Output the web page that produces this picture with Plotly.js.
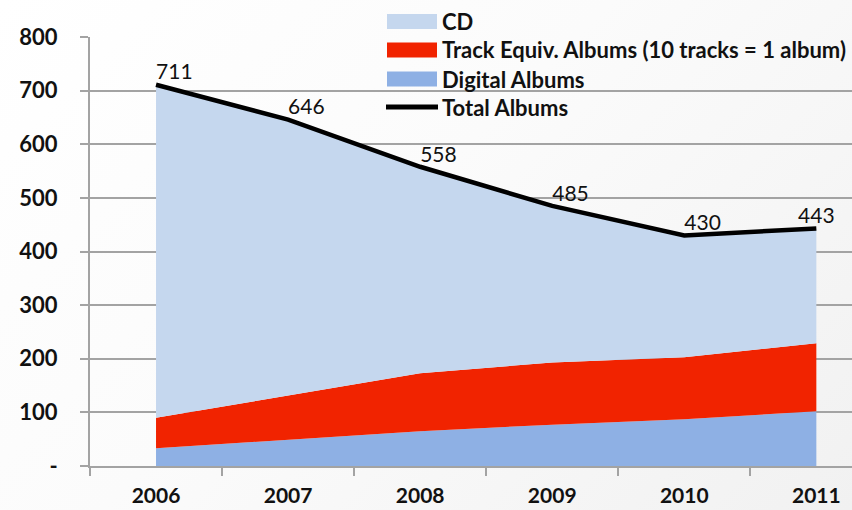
<!DOCTYPE html>
<html>
<head>
<meta charset="utf-8">
<script src="https://cdn.plot.ly/plotly-3.0.1.min.js"></script>
<style>
  html, body { margin: 0; padding: 0; }
  body {
    width: 852px; height: 510px; overflow: hidden;
    background: linear-gradient(135deg, #ffffff 0%, #fbfbfb 45%, #f1f1f1 100%);
  }
  #chart { width: 852px; height: 510px; }
</style>
</head>
<body>
<div id="chart"></div>
<script>
// US album sales by format, millions of units
const years = ['2006', '2007', '2008', '2009', '2010', '2011'];
const digitalAlbums = [33, 49, 65, 77, 87, 102];
const trackEquivAlbums = [57, 83, 108, 116, 116, 127];
const cdAlbums = [621, 514, 385, 292, 227, 214];
const totalAlbums = [711, 646, 558, 485, 430, 443];

const yTickVals = [0, 100, 200, 300, 400, 500, 600, 700, 800];
const yTickText = ['-', '100', '200', '300', '400', '500', '600', '700', '800'];

const seriesNames = ['CD', 'Track Equiv. Albums (10 tracks = 1 album)', 'Digital Albums', 'Total Albums'];
const seriesColors = ['#c5d7ee', '#f12300', '#8eb0e4', '#000000'];

const FONT = 'Lato, "Liberation Sans", sans-serif';
const GRID = '#a3a3a3';

// plot area geometry in pixels, used to place the legend in paper coords
const W = 852, H = 510, M = { l: 90, r: 0, t: 37, b: 44 };
const px2x = px => (px - M.l) / (W - M.l - M.r);
const px2y = py => (H - M.b - py) / (H - M.t - M.b);

const traces = [
  {
    name: seriesNames[2], x: years, y: digitalAlbums,
    type: 'scatter', mode: 'lines', stackgroup: 'sales',
    line: { width: 0 }, fillcolor: seriesColors[2], showlegend: false
  },
  {
    name: seriesNames[1], x: years, y: trackEquivAlbums,
    type: 'scatter', mode: 'lines', stackgroup: 'sales',
    line: { width: 0 }, fillcolor: seriesColors[1], showlegend: false
  },
  {
    name: seriesNames[0], x: years, y: cdAlbums,
    type: 'scatter', mode: 'lines', stackgroup: 'sales',
    line: { width: 0 }, fillcolor: seriesColors[0], showlegend: false
  },
  {
    name: seriesNames[3], x: years, y: totalAlbums,
    type: 'scatter', mode: 'lines+text',
    line: { color: seriesColors[3], width: 4.5 },
    text: totalAlbums.map(v => String(v)),
    textposition: ['top right', 'top right', 'top right', 'top right', 'top right', 'top center'],
    textfont: { family: FONT, size: 21, color: '#111111' },
    cliponaxis: false, showlegend: false
  }
];

// legend: swatch + label rows
const legendRows = [21.5, 50, 79, 107];
const shapes = [];
const annotations = [];
seriesNames.forEach((name, i) => {
  const cy = legendRows[i];
  if (i < 3) {
    shapes.push({
      type: 'rect', xref: 'paper', yref: 'paper', layer: 'above',
      x0: px2x(387), x1: px2x(437), y0: px2y(cy - 7.5), y1: px2y(cy + 7.5),
      fillcolor: seriesColors[i], line: { width: 0 }
    });
  } else {
    shapes.push({
      type: 'line', xref: 'paper', yref: 'paper', layer: 'above',
      x0: px2x(386), x1: px2x(438), y0: px2y(cy), y1: px2y(cy),
      line: { color: seriesColors[i], width: 5 }
    });
  }
  annotations.push({
    xref: 'paper', yref: 'paper', x: px2x(440), y: px2y(cy),
    xanchor: 'left', yanchor: 'middle', showarrow: false, text: name,
    font: { family: FONT, size: 22, weight: 'bold', color: '#111111' }
  });
});

const layout = {
  width: W, height: H,
  margin: M,
  paper_bgcolor: 'rgba(0,0,0,0)',
  plot_bgcolor: 'rgba(0,0,0,0)',
  font: { family: FONT, color: '#111111' },
  showlegend: false,
  shapes: shapes,
  annotations: annotations,
  xaxis: {
    type: 'category', range: [-0.5, 5.27],
    showgrid: false, zeroline: false,
    showline: true, linecolor: GRID, linewidth: 2,
    ticks: 'outside', tickson: 'boundaries', ticklen: 8, tickwidth: 2, tickcolor: GRID,
    ticklabelstandoff: 10,
    tickfont: { family: FONT, size: 21, weight: 'bold', color: '#111111' }
  },
  yaxis: {
    range: [0, 800], tickvals: yTickVals, ticktext: yTickText,
    showgrid: true, gridcolor: GRID, gridwidth: 2, zeroline: false,
    showline: true, linecolor: GRID, linewidth: 2,
    ticks: 'outside', ticklen: 8, tickwidth: 2, tickcolor: GRID,
    ticklabelstandoff: 18,
    tickfont: { family: FONT, size: 22, weight: 'bold', color: '#111111' }
  }
};

Plotly.newPlot('chart', traces, layout, { displayModeBar: false, staticPlot: true });
</script>
</body>
</html>
